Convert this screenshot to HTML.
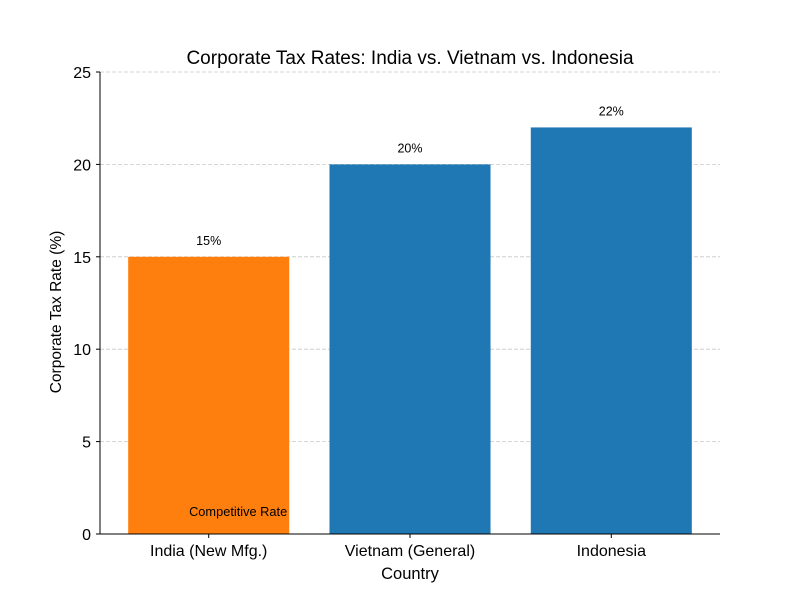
<!DOCTYPE html>
<html><head><meta charset="utf-8"><style>body{margin:0;background:#fff}svg{display:block;font-family:"Liberation Sans",sans-serif}</style></head>
<body>
<svg id="chart" width="800" height="600">
<rect width="800" height="600" fill="#fff"/>
<text x="410" y="64" font-size="19" text-anchor="middle" fill="#000">Corporate Tax Rates: India vs. Vietnam vs. Indonesia</text>
<g id="grid"></g><g id="bars"></g><g id="axes"></g>
<text x="410" y="579" font-size="16.5" text-anchor="middle">Country</text>
<text transform="translate(61,312) rotate(-90)" font-size="15.5" text-anchor="middle">Corporate Tax Rate (%)</text>
</svg>
<script>
const categories = ["India (New Mfg.)", "Vietnam (General)", "Indonesia"];
const values = [15, 20, 22];
const valueLabels = ["15%", "20%", "22%"];
const colors = ["#ff7f0e", "#1f77b4", "#1f77b4"];
const yTicks = [0, 5, 10, 15, 20, 25];
const NS = "http://www.w3.org/2000/svg";
const L = 100, R = 720, T = 72, B = 534;
const y = v => B - (v / 25) * (B - T);
const xmin = -0.54, xmax = 2.54;
const x = i => L + (i - xmin) / (xmax - xmin) * (R - L);
const bw = 0.8 * (R - L) / (xmax - xmin);
function mk(tag, attrs, parent) { const e = document.createElementNS(NS, tag); for (const k in attrs) e.setAttribute(k, attrs[k]); document.getElementById(parent).appendChild(e); return e; }
yTicks.forEach(t => {
  if (t > 0) {
    const g = mk("line", {x1: L, x2: R, y1: y(t), y2: y(t), stroke: "#c8c8c8", "stroke-dasharray": "4,2", "stroke-width": 0.8}, "grid");
    
    
  }
  const tk = mk("line", {x1: L - 4, x2: L, y1: y(t), y2: y(t), stroke: "#000"}, "axes");
  
  
  const lb = mk("text", {x: L - 9, y: y(t) + 6, "font-size": 16, "text-anchor": "end"}, "axes");
  lb.textContent = t;
  
  
});
categories.forEach((c, i) => {
  const r = mk("rect", {x: x(i) - bw / 2, y: y(values[i]), width: bw, height: B - y(values[i]), fill: colors[i]}, "bars");
  
  
  const v = mk("text", {x: x(i), y: y(values[i]) - 12, "font-size": 12.5, "text-anchor": "middle"}, "bars");
  v.textContent = valueLabels[i];
  
  
  const tk = mk("line", {x1: x(i), x2: x(i), y1: B, y2: B + 4, stroke: "#000"}, "axes");
  
  
  const lb = mk("text", {x: x(i), y: B + 22, "font-size": 16, "text-anchor": "middle"}, "axes");
  lb.textContent = c;
  
  
});
const ann = mk("text", {x: x(0) + bw / 2 - 2, y: 516, "font-size": 12.8, "text-anchor": "end"}, "bars");
ann.textContent = "Competitive Rate";


const ya = mk("line", {x1: L, x2: L, y1: T, y2: B, stroke: "#000"}, "axes");


const xa = mk("line", {x1: L, x2: R, y1: B, y2: B, stroke: "#000"}, "axes");


</script>
</body></html>
